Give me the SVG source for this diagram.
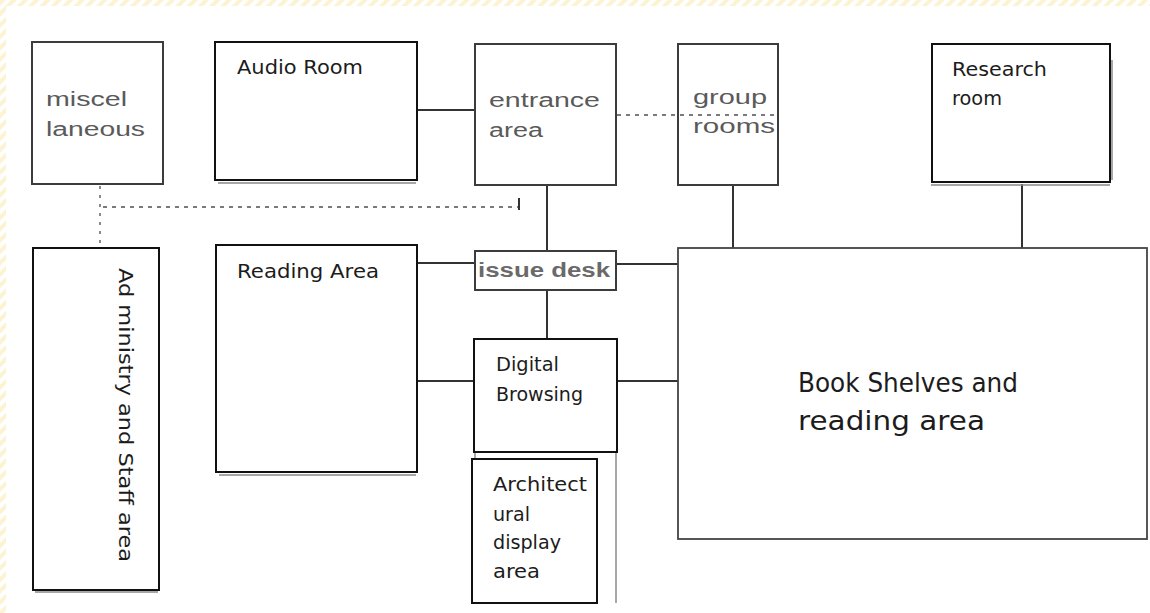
<svg xmlns="http://www.w3.org/2000/svg" width="1150" height="613" viewBox="0 0 1150 613">
  <defs>
    <pattern id="stripes" width="8" height="8" patternUnits="userSpaceOnUse" patternTransform="rotate(45)">
      <rect width="8" height="8" fill="#ffffff"/>
      <rect width="4" height="8" fill="#fbf3d2"/>
    </pattern>
    <style>
      .box { fill: #ffffff; stroke: #111111; stroke-width: 2; }
      .scan { fill: #ffffff; stroke: #3c3c3c; stroke-width: 2; }
      .open { fill: none; }
      .shelf { fill: #ffffff; stroke: #444444; stroke-width: 1.8; }
      .shadow { stroke: #8a8a8a; stroke-width: 1.5; fill: none; }
      .cg { font-family: "DejaVu Sans", "Liberation Sans", sans-serif; font-size: 20px; fill: #1c1c1c; }
      .big { font-size: 27px; }
      .hv { font-family: "Liberation Sans", Arial, sans-serif; font-size: 20px; fill: #5a5a5a; }
      .hvb { font-weight: bold; font-size: 20px; fill: #6a6a6a; }
      .link { stroke: #333333; stroke-width: 2; fill: none; }
      .dash { stroke: #7a7a7a; stroke-width: 2; fill: none; stroke-dasharray: 4 5; }
      .dot { stroke: #8a8a8a; stroke-width: 2; fill: none; stroke-dasharray: 3 6; }
    </style>
  </defs>

  <!-- page background with striped margin -->
  <rect x="0" y="0" width="1150" height="613" fill="url(#stripes)"/>
  <rect x="6" y="6" width="1144" height="607" fill="#ffffff"/>

  <!-- connectors -->
  <g id="connectors">
    <line class="link" x1="417" y1="110" x2="475" y2="110"/>
    <line class="dash" x1="617" y1="115" x2="778" y2="115"/>
    <line class="link" x1="547" y1="185" x2="547" y2="251"/>
    <line class="dot" x1="100" y1="186" x2="100" y2="247"/>
    <line class="dash" x1="103" y1="207" x2="519" y2="207"/>
    <line class="link" x1="519" y1="198" x2="519" y2="210" stroke-width="1.5"/>
    <line class="link" x1="733" y1="185" x2="733" y2="248"/>
    <line class="link" x1="1022" y1="184" x2="1022" y2="248"/>
    <line class="link" x1="417" y1="263" x2="475" y2="263"/>
    <line class="link" x1="616" y1="264" x2="678" y2="264"/>
    <line class="link" x1="547" y1="290" x2="547" y2="339"/>
    <line class="link" x1="417" y1="381" x2="474" y2="381"/>
    <line class="link" x1="617" y1="381" x2="678" y2="381"/>
  </g>

  <!-- miscellaneous -->
  <g id="miscellaneous">
    <rect class="scan" x="32" y="42" width="131" height="142"/>
    <text class="hv" x="46" y="106" textLength="81" lengthAdjust="spacingAndGlyphs">miscel</text>
    <text class="hv" x="46" y="136" textLength="99" lengthAdjust="spacingAndGlyphs">laneous</text>
  </g>

  <!-- audio room -->
  <g id="audio-room">
    <line class="shadow" x1="218" y1="183" x2="416" y2="183"/>
    <rect class="box" x="215" y="42" width="202" height="138"/>
    <text class="cg" x="237" y="74" textLength="126" lengthAdjust="spacingAndGlyphs">Audio Room</text>
  </g>

  <!-- entrance area -->
  <g id="entrance-area">
    <rect class="scan" x="475" y="44" width="141" height="141"/>
    <text class="hv" x="489" y="107" textLength="111" lengthAdjust="spacingAndGlyphs">entrance</text>
    <text class="hv" x="489" y="137" textLength="54" lengthAdjust="spacingAndGlyphs">area</text>
  </g>

  <!-- group rooms (open fill so the dashed link shows through) -->
  <g id="group-rooms">
    <rect class="scan open" x="678" y="44" width="100" height="141"/>
    <text class="hv" x="693" y="104" textLength="74" lengthAdjust="spacingAndGlyphs">group</text>
    <text class="hv" x="693" y="133" textLength="82" lengthAdjust="spacingAndGlyphs">rooms</text>
  </g>

  <!-- research room -->
  <g id="research-room">
    <line class="shadow" x1="931" y1="185" x2="1110" y2="185"/>
    <line class="shadow" x1="1112" y1="60" x2="1112" y2="180" stroke="#bbbbbb"/>
    <rect class="box" x="932" y="44" width="178" height="138"/>
    <text class="cg" x="952" y="76" textLength="95" lengthAdjust="spacingAndGlyphs">Research</text>
    <text class="cg" x="952" y="105" textLength="50" lengthAdjust="spacingAndGlyphs">room</text>
  </g>

  <!-- administry and staff area -->
  <g id="admin-staff">
    <line class="shadow" x1="35" y1="592" x2="158" y2="592"/>
    <rect class="box" x="33" y="248" width="126" height="342"/>
    <text class="cg" font-size="21" transform="translate(119,268) rotate(90)" textLength="294" lengthAdjust="spacingAndGlyphs">Ad ministry and Staff area</text>
  </g>

  <!-- reading area -->
  <g id="reading-area">
    <line class="shadow" x1="219" y1="475" x2="416" y2="475"/>
    <rect class="box" x="216" y="245" width="201" height="227"/>
    <text class="cg" x="237" y="278" textLength="142" lengthAdjust="spacingAndGlyphs">Reading Area</text>
  </g>

  <!-- issue desk -->
  <g id="issue-desk">
    <rect class="scan" x="475" y="251" width="141" height="39"/>
    <text class="hv hvb" x="478" y="277" textLength="132" lengthAdjust="spacingAndGlyphs">issue desk</text>
  </g>

  <!-- book shelves and reading area -->
  <g id="book-shelves">
    <rect class="shelf" x="678" y="248" width="469" height="291"/>
    <text class="cg big" x="798" y="392" textLength="220" lengthAdjust="spacingAndGlyphs">Book Shelves and</text>
    <text class="cg big" x="798" y="430" textLength="187" lengthAdjust="spacingAndGlyphs">reading area</text>
  </g>

  <!-- digital browsing -->
  <g id="digital-browsing">
    <line class="shadow" x1="475" y1="452" x2="475" y2="459"/>
    <line class="shadow" x1="616" y1="452" x2="616" y2="603"/>
    <rect class="box" x="474" y="339" width="143" height="113"/>
    <text class="cg" x="496" y="371" textLength="63" lengthAdjust="spacingAndGlyphs">Digital</text>
    <text class="cg" x="496" y="401" textLength="87" lengthAdjust="spacingAndGlyphs">Browsing</text>
  </g>

  <!-- architectural display area -->
  <g id="architectural-display">
    <rect class="box" x="472" y="459" width="125" height="144"/>
    <text class="cg" x="493" y="491" textLength="94" lengthAdjust="spacingAndGlyphs">Architect</text>
    <text class="cg" x="493" y="521" textLength="37" lengthAdjust="spacingAndGlyphs">ural</text>
    <text class="cg" x="493" y="549" textLength="68" lengthAdjust="spacingAndGlyphs">display</text>
    <text class="cg" x="493" y="578" textLength="47" lengthAdjust="spacingAndGlyphs">area</text>
  </g>
</svg>
